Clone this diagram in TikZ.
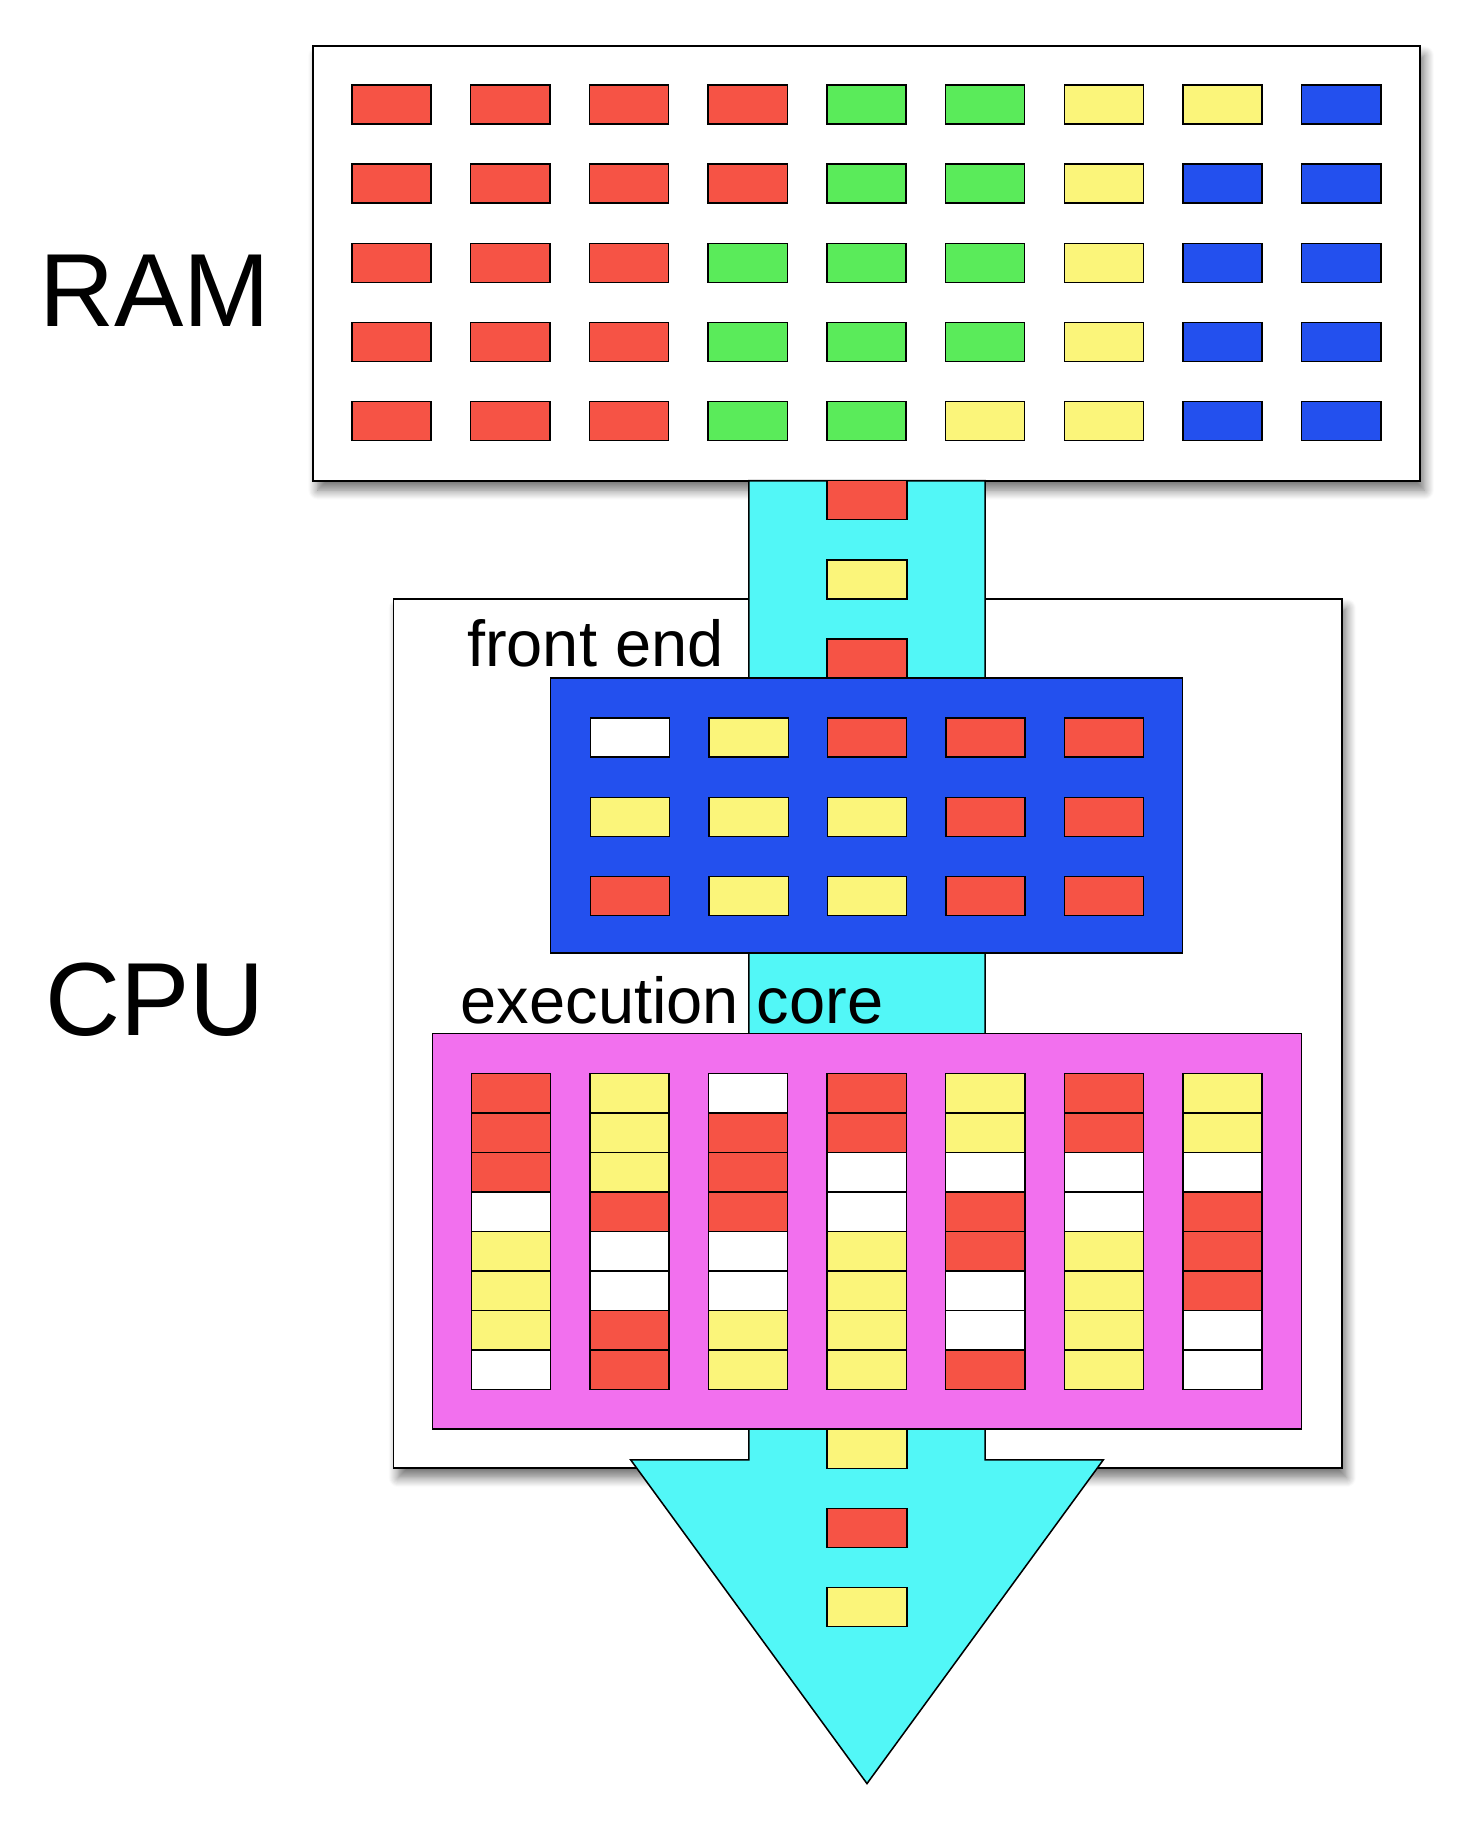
\documentclass[tikz,border=0pt]{standalone}
\usepackage{fontspec}
\setmainfont{Liberation Sans}
\usetikzlibrary{shadows.blur}
\definecolor{cR}{HTML}{F65345}
\definecolor{cG}{HTML}{5AEB5A}
\definecolor{cY}{HTML}{FBF57A}
\definecolor{cB}{HTML}{2350EE}
\definecolor{cW}{HTML}{FFFFFF}
\definecolor{cC}{HTML}{52F7F7}
\definecolor{cM}{HTML}{F270EE}
\begin{document}
\begin{tikzpicture}[x=1pt,y=-1pt,line width=1.3pt,
  box/.style={draw=black,fill=white,blur shadow={shadow xshift=4pt,shadow yshift=-8pt,shadow blur radius=8pt,shadow blur steps=10,shadow opacity=55}},
  cell/.style={draw=black,line width=1.2pt}]
\useasboundingbox (0,0) rectangle (1245,1562);
% RAM
\draw[box] (265,39) rectangle (1202,407);
\foreach \row [count=\j from 0] in {{R,R,R,R,G,G,Y,Y,B},{R,R,R,R,G,G,Y,B,B},{R,R,R,G,G,G,Y,B,B},{R,R,R,G,G,G,Y,B,B},{R,R,R,G,G,Y,Y,B,B}}
  \foreach \c [count=\i from 0] in \row
    \draw[cell,fill=c\c] ({298+100.5*\i},{72+67*\j}) rectangle ++(67,33);
% CPU
\draw[box] (333,507) rectangle (1136,1243);
% pipe
\draw[fill=cC] (634,407) -- (834,407) -- (834,1236) -- (934,1236) -- (734,1510) -- (534,1236) -- (634,1236) -- cycle;
\foreach \y/\c in {407/R,474/Y,541/R,1210/Y,1277/R,1344/Y}
  \draw[cell,fill=c\c] (700,\y) rectangle ++(68,33);
% front end
\draw[fill=cB] (466,574) rectangle (1001,807);
\foreach \row [count=\j from 0] in {{W,Y,R,R,R},{Y,Y,Y,R,R},{R,Y,Y,R,R}}
  \foreach \c [count=\i from 0] in \row
    \draw[cell,fill=c\c] ({500+100.3*\i},{608+67*\j}) rectangle ++(67,33);
% execution core
\draw[fill=cM] (366,875) rectangle (1102,1210);
\foreach \col [count=\i from 0] in {{R,R,R,W,Y,Y,Y,W},{Y,Y,Y,R,W,W,R,R},{W,R,R,R,W,W,Y,Y},{R,R,W,W,Y,Y,Y,Y},{Y,Y,W,R,R,W,W,R},{R,R,W,W,Y,Y,Y,Y},{Y,Y,W,R,R,R,W,W}}
  \foreach \c [count=\j from 0] in \col
    \draw[cell,fill=c\c] ({399+100.4*\i},{909+33.4*\j}) rectangle ++(67,33.4);
% labels
\node[font=\fontsize{88}{88}\selectfont] (ram) at (131,246) {RAM};
\node[font=\fontsize{88}{88}\selectfont] (cpu) at (131,846) {CPU};
\node[font=\fontsize{55}{55}\selectfont] (fe) at (504,545) {front end};
\node[font=\fontsize{55}{55}\selectfont] (ec) at (569,847) {execution core};
\end{tikzpicture}
\end{document}
